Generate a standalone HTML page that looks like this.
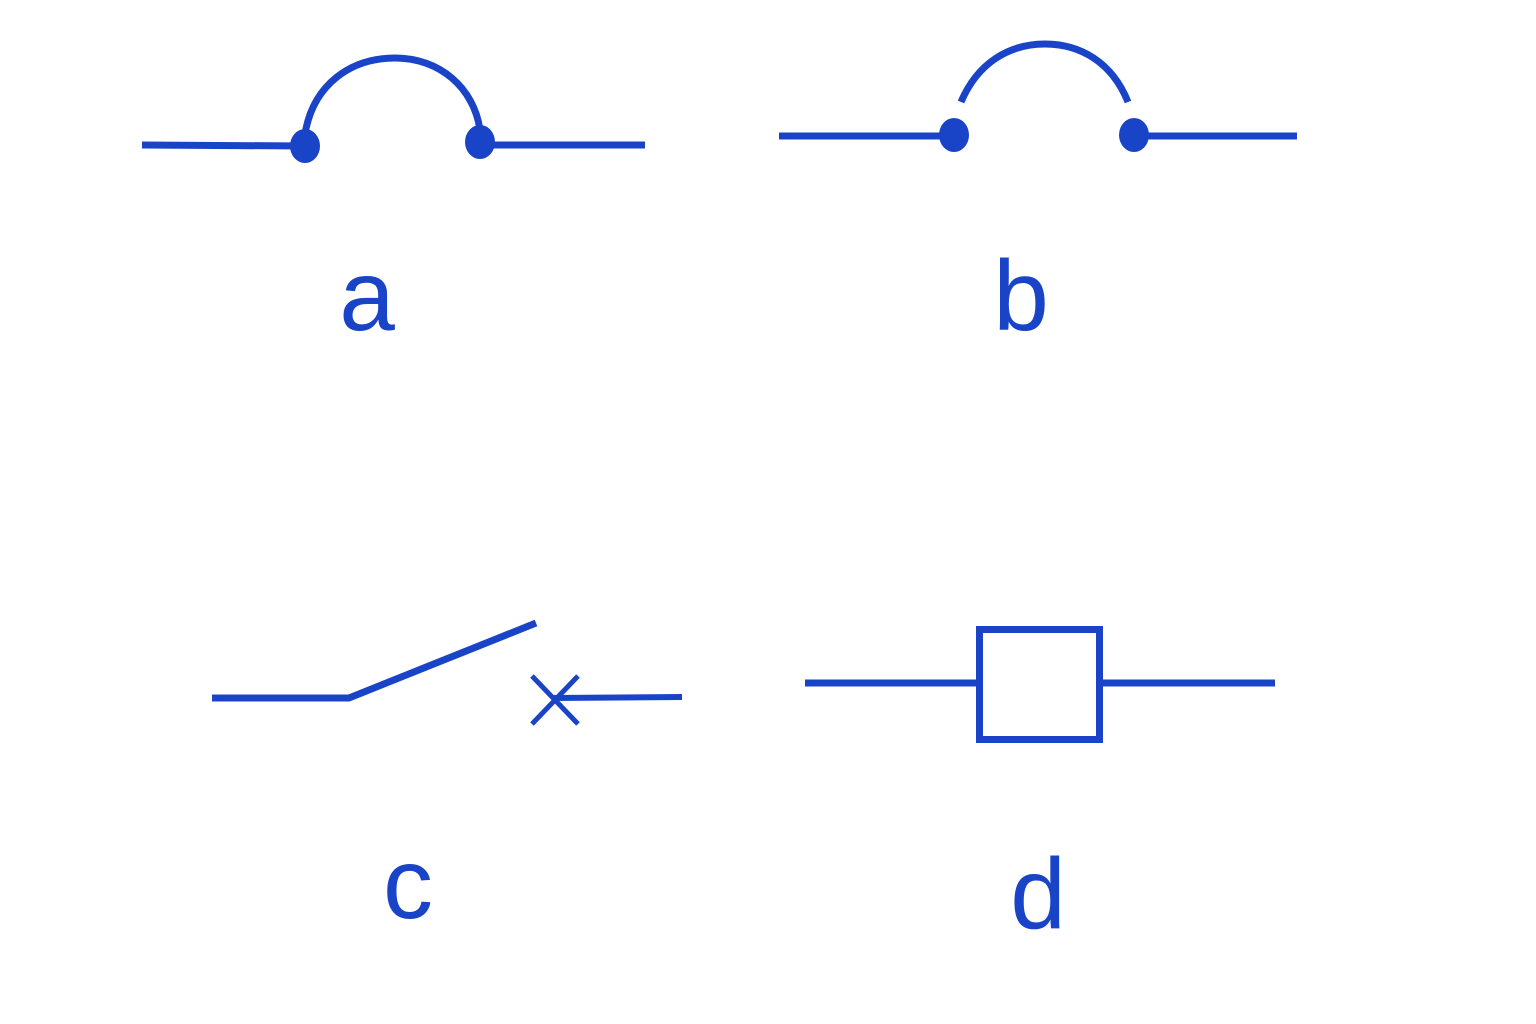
<!DOCTYPE html>
<html><head><meta charset="utf-8"><style>
html,body{margin:0;padding:0;background:#fff;}
svg{display:block}
text{font-family:"Liberation Sans",Arial,sans-serif;fill:#1a44c8;text-anchor:middle;font-size:100px}
</style></head><body>
<svg width="1536" height="1024" viewBox="0 0 1536 1024" xmlns="http://www.w3.org/2000/svg">
<g stroke="#1a44c8" stroke-width="7" fill="none">
  <line x1="142" y1="145" x2="305" y2="146"/>
  <line x1="480" y1="145" x2="645" y2="145"/>
  <path d="M305,134 C313,85 350,58 395,58 C440,58 474,88 480,130"/>
  <line x1="779" y1="136" x2="955" y2="136"/>
  <line x1="1134" y1="136" x2="1297" y2="136"/>
  <path d="M961,102 C978,62 1010,44 1045,44 C1080,44 1112,62 1128,102"/>
  <line x1="212" y1="698" x2="350" y2="698"/>
  <line x1="349" y1="698" x2="536" y2="623"/>
  <line x1="553" y1="698" x2="682" y2="697" stroke-width="6"/>
  <line x1="532" y1="676" x2="578" y2="724" stroke-width="5"/>
  <line x1="578" y1="676" x2="532" y2="724" stroke-width="5"/>
  <line x1="805" y1="683" x2="979" y2="683"/>
  <line x1="1099" y1="683" x2="1275" y2="683"/>
  <rect x="979.5" y="629.5" width="120" height="110"/>
</g>
<g fill="#1a44c8">
  <ellipse cx="305" cy="146" rx="15" ry="17"/>
  <ellipse cx="480" cy="142" rx="15" ry="17"/>
  <ellipse cx="954" cy="135" rx="15" ry="17"/>
  <ellipse cx="1134" cy="135" rx="15" ry="17"/>
</g>
<text x="367" y="330">a</text>
<text x="1021" y="330">b</text>
<text x="408" y="918">c</text>
<text x="1038" y="928">d</text>
</svg>
</body></html>
